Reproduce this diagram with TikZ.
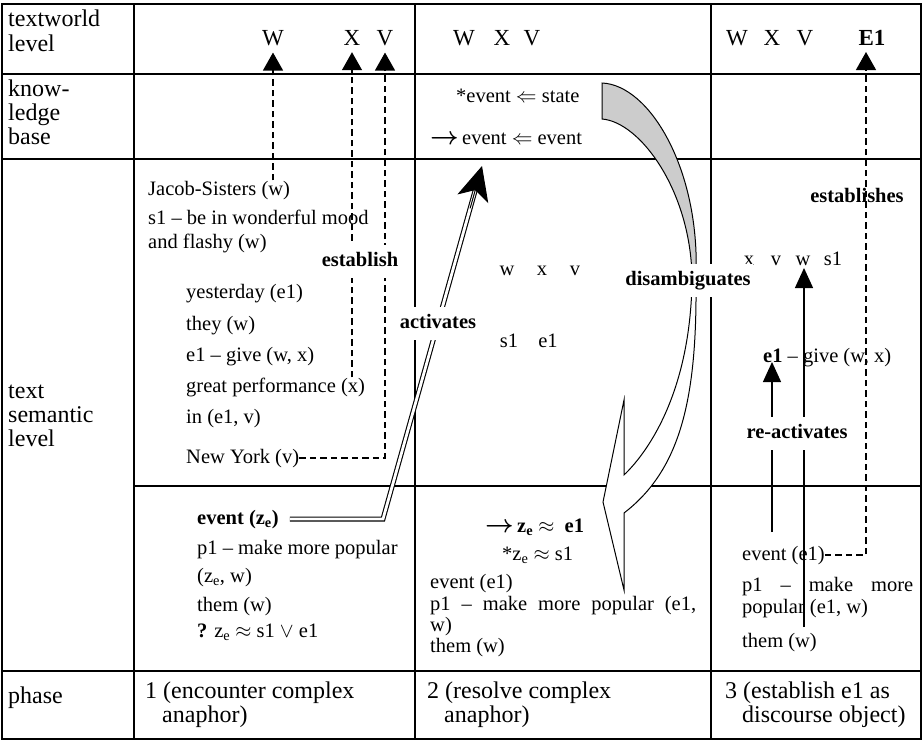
\documentclass[tikz,border=0pt]{standalone}
\usepackage{fontspec}
\setmainfont{Liberation Serif}
\usetikzlibrary{arrows.meta,calc}
\begin{document}
\begin{tikzpicture}[x=1pt,y=-1pt,
  grid/.style={line width=1.6pt},
  celltxt/.style={font=\rmfamily\fontsize{24}{26}\selectfont, anchor=west, inner sep=0pt, text height=17pt, text depth=5pt},
  txt/.style={font=\rmfamily\fontsize{20.5}{22}\selectfont, anchor=west, inner sep=0pt, text height=14.5pt, text depth=4.5pt},
  hdr/.style={font=\rmfamily\fontsize{23}{23}\selectfont, anchor=base, inner sep=0pt},
  lab/.style={font=\rmfamily\fontsize{20.5}{22}\selectfont\bfseries, inner xsep=2pt, inner ysep=7pt, fill=white, text height=14.5pt, text depth=4.5pt},
  dasharrow/.style={line width=1.3pt, dash pattern=on 6.5pt off 4pt, -{Triangle[length=18pt,width=20pt]}},
  solidarrow/.style={line width=1.3pt, -{Triangle[length=20pt,width=18pt]}},
  dbl/.style={draw=black, line width=1.1pt, double=white, double distance=2.8pt},
  band/.style={line width=1pt, draw=black},
]
\useasboundingbox (0,0) rectangle (923,742);

% table grid
\draw[grid] (2,4) rectangle (921,739);
\draw[grid] (134,4) -- (134,739);
\draw[grid] (415,4) -- (415,739);
\draw[grid] (711,4) -- (711,739);
\draw[grid] (2,74) -- (921,74);
\draw[grid] (2,159) -- (921,159);
\draw[grid] (134,486) -- (921,486);
\draw[grid] (2,671) -- (921,671);

% left column
\node[celltxt] (l1a) at (8,20) {textworld};
\node[celltxt] (l1b) at (8,45) {level};
\node[celltxt] (l2a) at (8,90) {know-};
\node[celltxt] (l2b) at (8,114) {ledge};
\node[celltxt] (l2c) at (8,138) {base};
\node[celltxt] (l3a) at (8,392) {text};
\node[celltxt] (l3b) at (8,416) {semantic};
\node[celltxt] (l3c) at (8,440) {level};
\node[celltxt] (l4) at (8,697) {phase};

% header letters
\node[hdr] (W1) at (273,45) {W};
\node[hdr] (X1) at (352,45) {X};
\node[hdr] (V1) at (385,45) {V};
\node[hdr] (W2) at (464,45) {W};
\node[hdr] (X2) at (502,45) {X};
\node[hdr] (V2) at (532,45) {V};
\node[hdr] (W3) at (737,45) {W};
\node[hdr] (X3) at (772,45) {X};
\node[hdr] (V3) at (805,45) {V};
\node[hdr,font=\rmfamily\fontsize{23}{23}\selectfont\bfseries] (E1) at (872,45) {E1};

% knowledge base
\node[txt] (kb1) at (456,97) {*event $\Leftarrow$ state};
\node[txt] (kb2) at (430,139) {{\fontsize{27}{27}\selectfont\boldmath$\rightarrow$}\,event $\Leftarrow$ event};

% column 2, text semantic level
\node[txt] (jacob) at (148,190) {Jacob-Sisters (w)};
\node[txt] (mood) at (148,219) {s1 – be in wonderful mood};
\node[txt] (flashy) at (148,243) {and flashy (w)};
\node[txt] (yest) at (186,293) {yesterday (e1)};
\node[txt] (they) at (186,325) {they (w)};
\node[txt] (giveA) at (186,356) {e1 – give (w, x)};
\node[txt] (perf) at (186,387) {great performance (x)};
\node[txt] (inev) at (186,418) {in (e1, v)};
\node[txt] (ny) at (186,458) {New York (v)};

\node[txt,font=\rmfamily\fontsize{20.5}{22}\selectfont\bfseries] (evz) at (197,519) {event (z\textsubscript{e})};
\node[txt] (p1a) at (197,549) {p1 – make more popular};
\node[txt] (zew) at (197,577) {(z\textsubscript{e}, w)};
\node[txt] (themA) at (197,606) {them (w)};
\node[txt] (quest) at (197,632) {\textbf{?} z\textsubscript{e} $\approx$ s1 $\vee$ e1};

% column 3
\node[txt,anchor=center] (cw) at (507,270) {w};
\node[txt,anchor=center] (cx) at (542,270) {x};
\node[txt,anchor=center] (cv) at (575,270) {v};
\node[txt,anchor=center] (cs1) at (509,342) {s1};
\node[txt,anchor=center] (ce1) at (548,342) {e1};

\node[txt,font=\rmfamily\fontsize{20.5}{22}\selectfont\bfseries] (zee1) at (485,527) {{\fontsize{27}{27}\selectfont\boldmath$\rightarrow$}\,z\textsubscript{e} $\approx$\ \ e1};
\node[txt] (zes1) at (502,555) {*z\textsubscript{e} $\approx$ s1};
\node[txt] (evB) at (430,583) {event (e1)};
\node[txt] (p1b) at (430,605) {\makebox[266pt][s]{p1 – make more popular (e1,}};
\node[txt] (wB) at (430,626) {w)};
\node[txt] (themB) at (430,647) {them (w)};

% column 4
\node[txt,anchor=center] (dx) at (749,260) {x};
\node[txt,anchor=center] (dv) at (776,260) {v};
\node[txt,anchor=center] (dw) at (803,260) {w};
\node[txt,anchor=center] (ds1) at (833,260) {s1};
\node[txt] (giveC) at (763,357) {\textbf{e1} – give (w, x)};
\node[txt] (evC) at (742,555) {event (e1)};
\node[txt] (p1c) at (742,586) {\makebox[171pt][s]{p1 – make more}};
\node[txt] (popC) at (742,608) {popular (e1, w)};
\node[txt] (themC) at (742,642) {them (w)};

% phase row
\node[celltxt] (ph1a) at (145,692) {1 (encounter complex};
\node[celltxt] (ph1b) at (162,716) {anaphor)};
\node[celltxt] (ph2a) at (427,692) {2 (resolve complex};
\node[celltxt] (ph2b) at (444,716) {anaphor)};
\node[celltxt] (ph3a) at (725,692) {3 (establish e1 as};
\node[celltxt] (ph3b) at (742,716) {discourse object)};

% establish arrows (column 2)
\draw[dasharrow, shorten >=7pt] (jacob.north -| W1) -- (W1.south);
\draw[dasharrow, shorten >=7pt] (perf.north -| X1) -- (X1.south);
\draw[dasharrow, shorten >=7pt] (ny.east) -- (ny.east -| V1) -- (V1.south);

% activates double arrow
\coordinate (bendA) at (383,519);
\coordinate (tipA) at (482,166);
\draw[dbl, shorten <=11pt] (evz.east) -- (bendA) -- ($(bendA)!0.93!(tipA)$);
\draw[line width=1pt, -{Stealth[length=34pt,width=32pt,inset=9pt]}] ($(bendA)!0.88!(tipA)$) -- (tipA);

% disambiguates band
\filldraw[band, fill=black!20] (602,83) .. controls (650,85) and (700,170) .. (696,276)
   -- (692,276) .. controls (690,190) and (640,122) .. (602,119) -- cycle;
\filldraw[band, fill=white] (692,282) .. controls (690,390) and (650,450) .. (624,475)
   -- (624,400) -- (603,502) -- (624,590) -- (624,513)
   .. controls (680,470) and (697,400) .. (696,282) -- cycle;

% re-activates arrows
\coordinate (raL0) at (772,532);
\coordinate (raL1) at (772,362);
\coordinate (raR0) at (804,627);
\coordinate (raR1) at (804,268);
\draw[solidarrow] (raL0) -- (raL1);
\draw[solidarrow] (raR0) -- (raR1);

% labels
\node[lab] (establish) at (360,261) {establish};
\node[lab] (activates) at (438,323) {activates};
\node[lab] (disamb) at (688,280) {disambiguates};
\node[lab] (react) at (797,433) {re-activates};
\node[lab, fill=none] (establishes) at (857,197) {establishes};

% establishes arrow (column 4)
\coordinate (e1tip) at (866,45);
\draw[dasharrow, shorten >=7pt] (evC.east) -- (evC.east -| e1tip) -- (e1tip);
\end{tikzpicture}
\end{document}
